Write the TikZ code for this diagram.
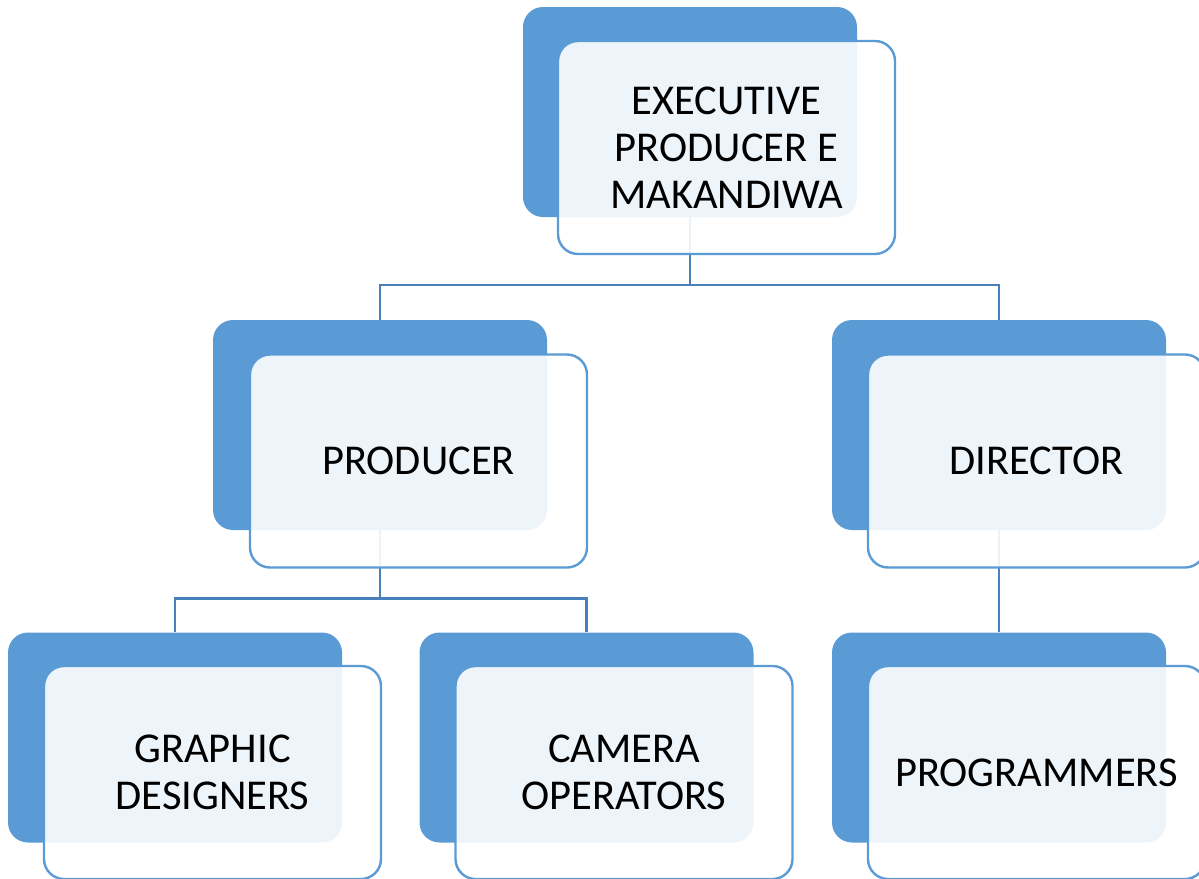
\documentclass[tikz,border=0pt]{standalone}
\usepackage{fontspec}
\setmainfont{Carlito}
\usetikzlibrary{calc}
\pgfdeclarelayer{background}
\pgfsetlayers{background,main}
\definecolor{cardblue}{RGB}{91,155,213}
\definecolor{linkblue}{RGB}{72,128,186}
\tikzset{
  backcard/.style={rectangle, rounded corners=20pt, fill=cardblue, draw=none,
    minimum width=334pt, minimum height=210pt, inner sep=0pt},
  frontcard/.style={rectangle, rounded corners=20pt, draw=cardblue, line width=2.4pt,
    fill=white, fill opacity=0.9, text opacity=1,
    minimum width=337pt, minimum height=213pt, inner sep=0pt,
    align=center, font=\fontsize{42.5}{47}\selectfont},
  link/.style={draw=linkblue, line width=2.4pt}
}
\begin{document}
\begin{tikzpicture}[x=1pt, y=-1pt]
\useasboundingbox (0,0) rectangle (1199,878);
\clip (0,0) rectangle (1199,878);

% back cards
\node[backcard] (execB) at (690,112) {};
\node[backcard] (prodB) at (380,425) {};
\node[backcard] (dirB)  at (999,425) {};
\node[backcard] (graB)  at (175,737.5) {};
\node[backcard] (camB)  at (586.5,737.5) {};
\node[backcard] (progB) at (999,737.5) {};

% connectors behind the cards
\begin{pgfonlayer}{background}
\draw[link] (execB.south) |- ([yshift=35pt]prodB.north) -| (prodB.north);
\draw[link] (execB.south) |- ([yshift=35pt]dirB.north) -| (dirB.north);
\draw[link] (prodB.south) |- ([yshift=34pt]graB.north) -| (graB.north);
\draw[link] (prodB.south) |- ([yshift=34pt]camB.north) -| (camB.north);
\draw[link] (dirB.south) -- (progB.north);
\end{pgfonlayer}

% front cards with labels
\node[frontcard] (exec) at (726.5,147.5) {EXECUTIVE\\PRODUCER E\\MAKANDIWA};
\node[frontcard] (prod) at (418.5,461) {PRODUCER};
\node[frontcard] (dir)  at (1036.5,461) {DIRECTOR};
\node[frontcard] (gra)  at (212.5,772.5) {GRAPHIC\\DESIGNERS};
\node[frontcard] (cam)  at (624,772.5) {CAMERA\\OPERATORS};
\node[frontcard] (prog) at (1036.5,772.5) {PROGRAMMERS};
\end{tikzpicture}
\end{document}
